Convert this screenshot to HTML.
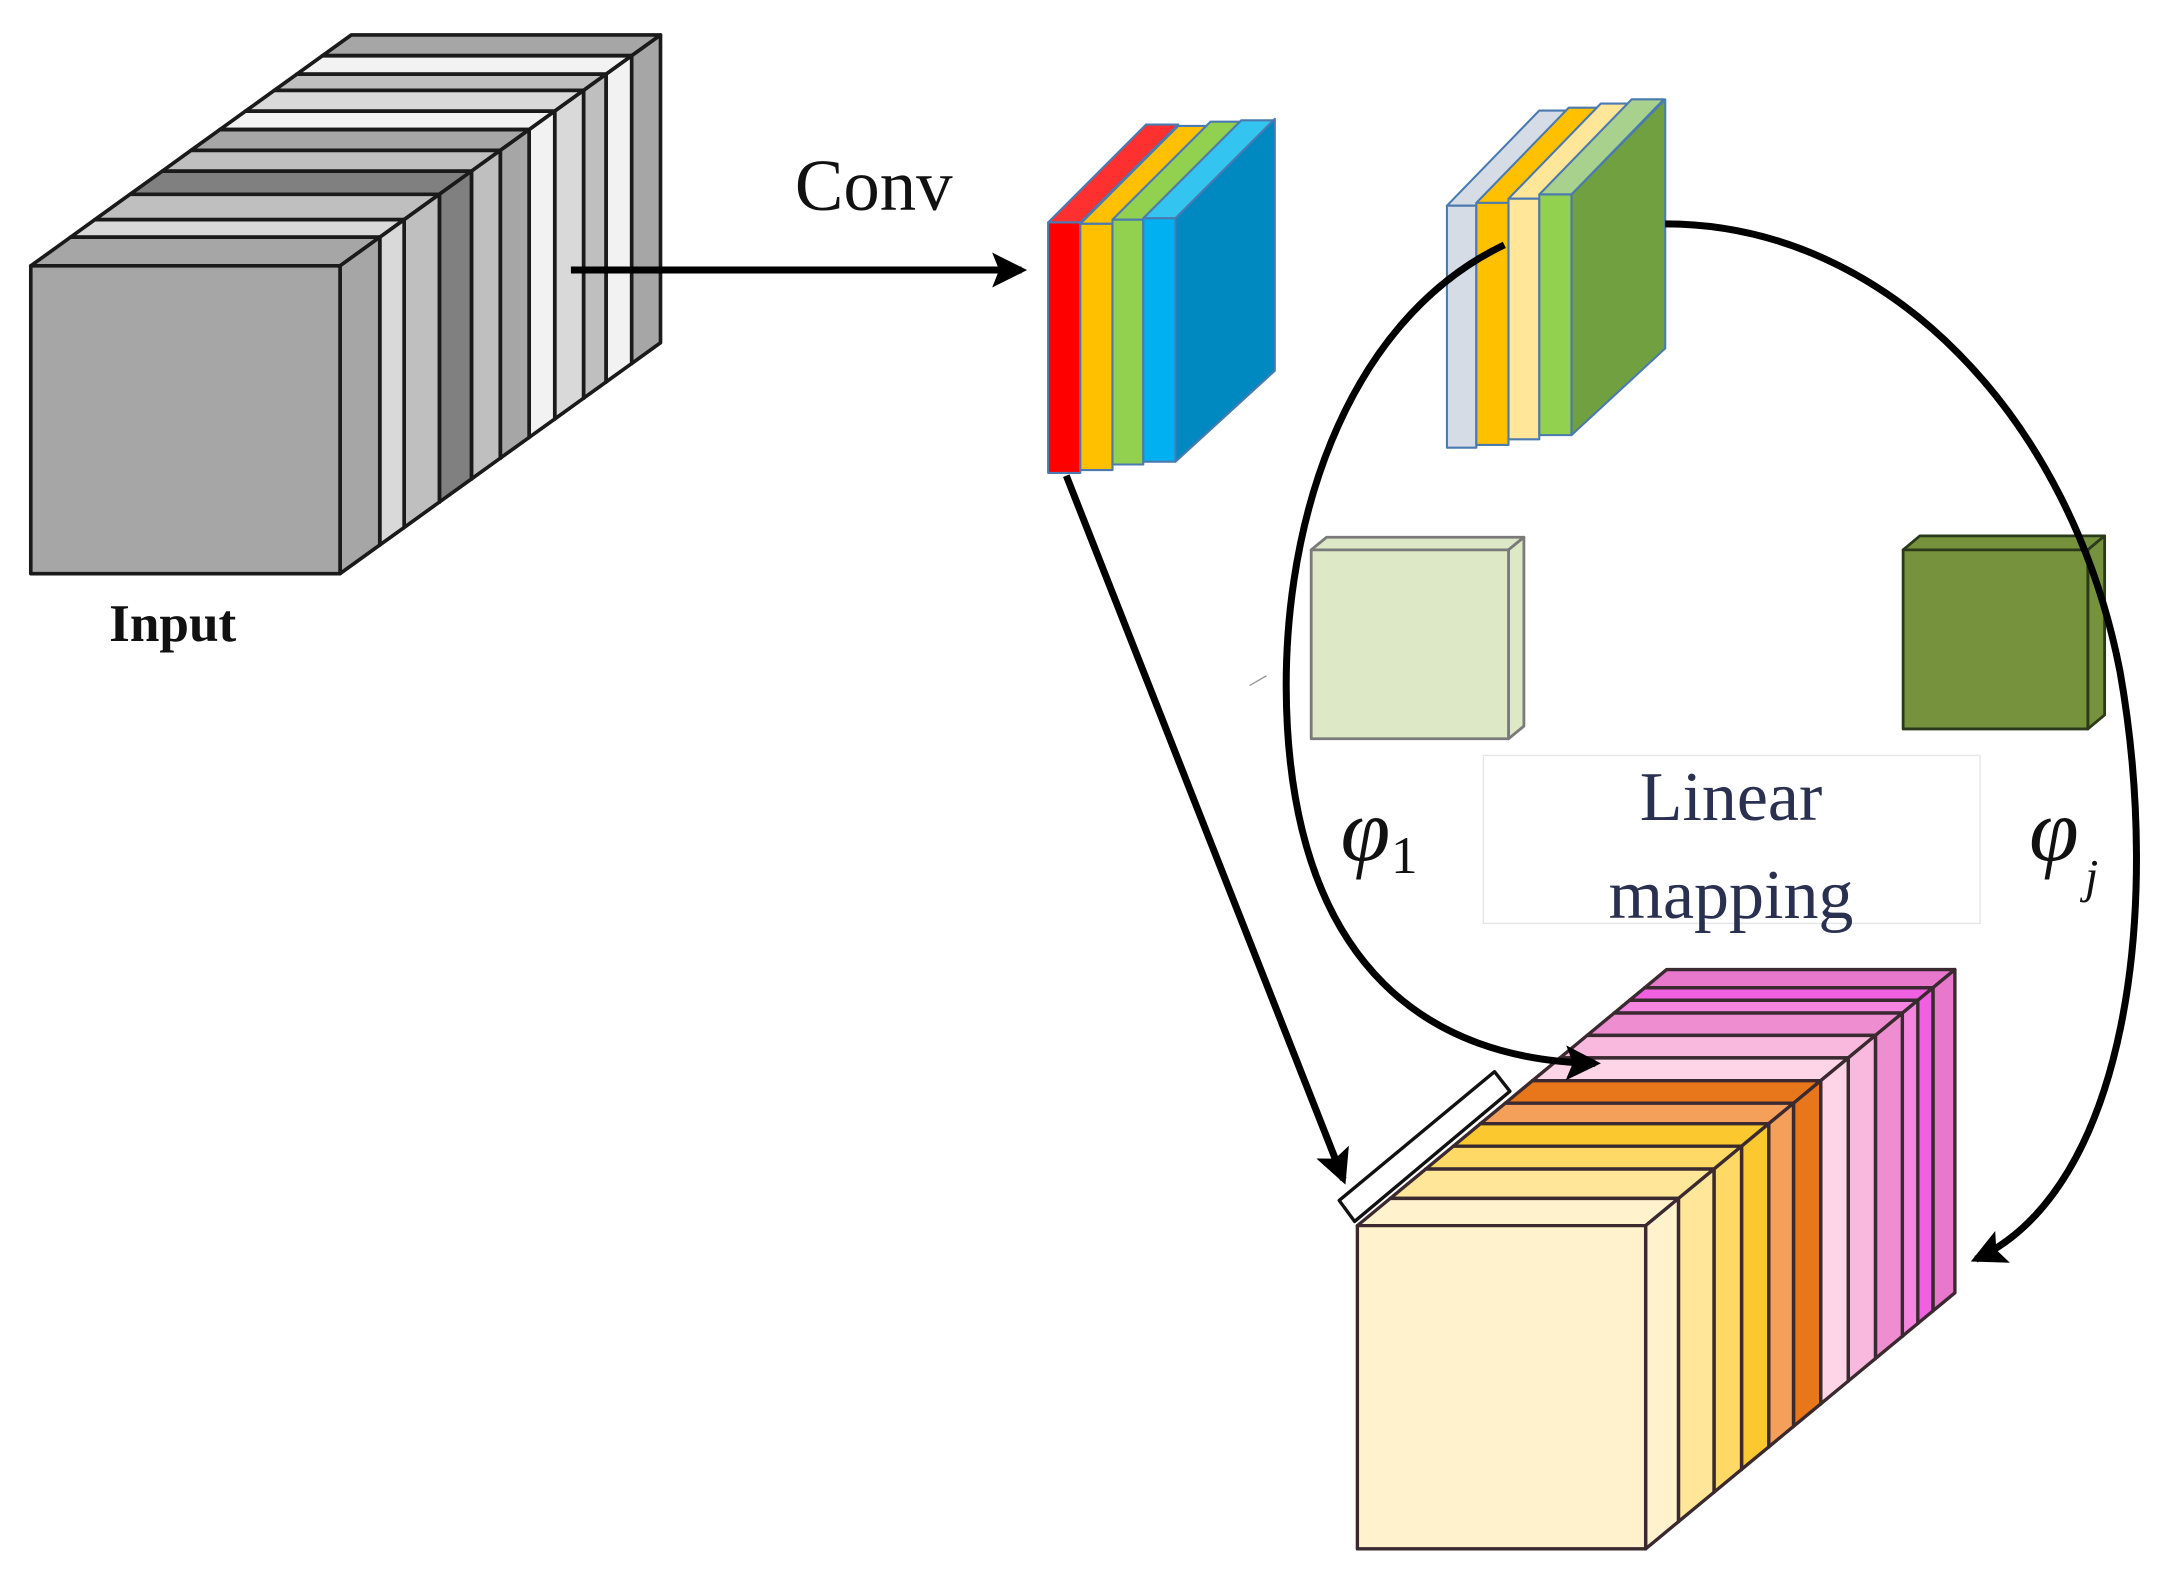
<!DOCTYPE html>
<html><head><meta charset="utf-8"><style>
html,body{margin:0;padding:0;background:#fff;}
svg{display:block;}
</style></head><body>
<svg id="s" width="2183" height="1581" viewBox="0 0 1560 1130" preserveAspectRatio="none" xmlns="http://www.w3.org/2000/svg">
<defs>
<marker id="ah" markerWidth="5" markerHeight="5" refX="4.2" refY="2.5" orient="auto" markerUnits="strokeWidth">
<path d="M0,0 L5,2.5 L0,5 L1,2.5 z" fill="#000"/>
</marker>
</defs>
<g id="g"></g>
<text x="568" y="150" font-family="Liberation Serif, serif" font-size="52" fill="#111">Conv</text>
<text x="78" y="458" font-family="Liberation Serif, serif" font-size="38" font-weight="bold" fill="#111">Input</text>
<rect x="1060" y="540" width="355" height="120" fill="#fff" stroke="#e6e6e6" stroke-width="1"/>
<text x="1237" y="586" text-anchor="middle" font-family="Liberation Serif, serif" font-size="50" fill="#2a3050">Linear</text>
<text x="1237" y="656" text-anchor="middle" font-family="Liberation Serif, serif" font-size="50" fill="#2a3050">mapping</text>
<text x="958" y="615" font-family="Liberation Serif, serif" font-size="64" font-style="italic" fill="#111">φ</text>
<text x="994" y="624" font-family="Liberation Serif, serif" font-size="38" fill="#111">1</text>
<text x="1450" y="615" font-family="Liberation Serif, serif" font-size="64" font-style="italic" fill="#111">φ</text>
<text x="1490" y="638" font-family="Liberation Serif, serif" font-size="34" font-style="italic" fill="#111">j</text>
</svg>
<script>
var g=document.getElementById('g');var NS='http://www.w3.org/2000/svg';
function el(t,a){var e=document.createElementNS(NS,t);for(var k in a)e.setAttribute(k,a[k]);g.appendChild(e);return e;}
function poly(p,f,s,w){el('polygon',{points:p.map(function(q){return q[0]+','+q[1]}).join(' '),fill:f,stroke:s,'stroke-width':w,'stroke-linejoin':'round'});}
function box(x,y,w,h,dx,dy,f0,f1,cf,ct,cs,s,sw){
 var fx=x+dx*f0,fy=y+dy*f0,ddx=dx*(f1-f0),ddy=dy*(f1-f0);
 poly([[fx,fy],[fx+w,fy],[fx+w+ddx,fy+ddy],[fx+ddx,fy+ddy]],ct,s,sw);
 poly([[fx+w,fy],[fx+w+ddx,fy+ddy],[fx+w+ddx,fy+h+ddy],[fx+w,fy+h]],cs,s,sw);
 poly([[fx,fy],[fx+w,fy],[fx+w,fy+h],[fx,fy+h]],cf,s,sw);
}
var fr=[0,.124,.2,.31,.41,.5,.59,.67,.76,.83,.91,1];
var cols=['#a6a6a6','#d9d9d9','#bfbfbf','#808080','#bfbfbf','#a6a6a6','#f2f2f2','#d9d9d9','#bfbfbf','#f2f2f2','#a6a6a6'];
for(var i=cols.length-1;i>=0;i--)box(22,190,221,220,229,-165,fr[i],fr[i+1],cols[i],cols[i],cols[i],'#1a1a1a',2.6);
el('line',{x1:408,y1:193,x2:730,y2:193,stroke:'#000','stroke-width':5,'marker-end':'url(#ah)'});
var cp=[[749,772,159,338,'#ff0000','#ff3030'],[772,795,160,336,'#ffc000','#ffc000'],[795,817,157,332,'#92d050','#92d050'],[817,840,156,330,'#00b0f0','#33c4f0']];
cp.forEach(function(c,i){var x0=c[0],x1=c[1],t=c[2],b=c[3];
 poly([[x0,t],[x1,t],[x1+70,t-70],[x0+70,t-70]],c[5],'#4a7ab0',1.5);
 if(i==3)poly([[x1,t],[x1+71,t-71],[x1+71,t+109],[x1,b]],'#0088c0','#4a7ab0',1.5);
 poly([[x0,t],[x1,t],[x1,b],[x0,b]],c[4],'#4a7ab0',1.5);});
var gp=[[1034,1055,147,320,'#d6dce5','#d6dce5'],[1055,1078,145,318,'#ffc000','#ffc000'],[1078,1100,142,314,'#ffe699','#ffe699'],[1100,1123,139,311,'#92d050','#a9d18e']];
gp.forEach(function(c,i){var x0=c[0],x1=c[1],t=c[2],b=c[3];
 poly([[x0,t],[x1,t],[x1+66,t-68],[x0+66,t-68]],c[5],'#4a7ab0',1.5);
 if(i==3)poly([[x1,t],[x1+67,t-68],[x1+67,t+110],[x1,b]],'#70a040','#4a7ab0',1.5);
 poly([[x0,t],[x1,t],[x1,b],[x0,b]],c[4],'#4a7ab0',1.5);});
box(937,393,141,135,11,-9,0,1,'#dde8c6','#dde8c6','#dde8c6','#7a7a7a',2);
box(1360,393,132,128,12,-10,0,1,'#76923c','#76923c','#76923c','#2a3a1a',2);
el('line',{x1:893,y1:490,x2:905,y2:483,stroke:'#999','stroke-width':1});
var of=[0,.106,.221,.31,.398,.478,.566,.655,.743,.83,.88,.929,1];
var oc=['#fff2cc','#ffe699','#ffd966','#fcc82f','#f4a05a','#e8761a','#fdd5e6','#f9b8de','#ee8dd0','#f585e0','#f060e0','#e878cc'];
for(var i=oc.length-1;i>=0;i--)box(970,876,206,231,221,-183,of[i],of[i+1],oc[i],oc[i],oc[i],'#3a2a30',2.4);
poly([[957,858],[1068,766],[1079,780],[968,873]],'#fff','#111',2.4);
el('path',{d:'M762,340 L960,843',fill:'none',stroke:'#000','stroke-width':5,'marker-end':'url(#ah)'});
el('path',{d:'M1075,175 C 960,230 912,380 920,520 C 930,690 1020,758 1140,760',fill:'none',stroke:'#000','stroke-width':5,'marker-end':'url(#ah)'});
el('path',{d:'M1190,160 C 1350,160 1480,300 1515,480 C 1545,650 1520,850 1412,900',fill:'none',stroke:'#000','stroke-width':5,'marker-end':'url(#ah)'});
</script>
</body></html>
